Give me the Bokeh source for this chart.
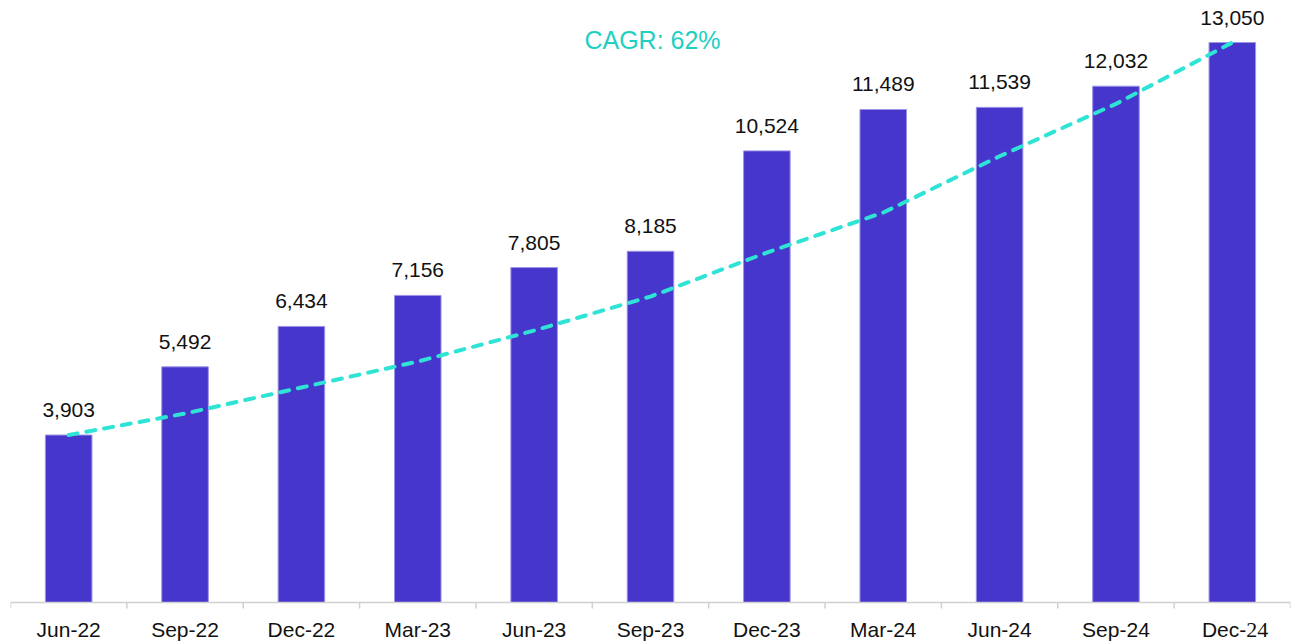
import math
from bokeh.plotting import figure
from bokeh.models import ColumnDataSource, Range1d, Label, Span
from bokeh.core.properties import value
from bokeh.embed import file_html
from bokeh.resources import INLINE

categories = ["Jun-22", "Sep-22", "Dec-22", "Mar-23", "Jun-23", "Sep-23",
              "Dec-23", "Mar-24", "Jun-24", "Sep-24", "Dec-24"]
values = [3903, 5492, 6434, 7156, 7805, 8185, 10524, 11489, 11539, 12032, 13050]
# dashed CAGR trend line at each category
cagr_curve = [3903, 4404, 5010, 5615, 6338, 7130, 8155, 9087, 10400, 11620, 13050]
cagr_text = "CAGR: 62%"

FONT = "Liberation Sans"
SERIF = "Liberation Serif"
BAR_COLOR = "#4636CC"
LINE_COLOR = "#2FE3D5"
AXIS_COLOR = "#D0D0D0"
Y_TOP = 14029
Y_BOTTOM = -932

n = len(categories)
centers = [i + 0.5 for i in range(n)]
boundaries = list(range(n + 1))
labels = [f"{v:,}" for v in values]

src = ColumnDataSource(dict(x=centers, top=values, label=labels, curve=cagr_curve))

p = figure(width=1292, height=642, output_backend="svg", toolbar_location=None,
           x_range=Range1d(0, n), y_range=Range1d(Y_BOTTOM, Y_TOP))
p.min_border_left = 10
p.min_border_right = 2
p.min_border_top = 0
p.min_border_bottom = 0
p.outline_line_color = None
p.background_fill_color = "white"
p.border_fill_color = "white"
p.xgrid.visible = False
p.ygrid.visible = False
p.xaxis.visible = False
p.yaxis.visible = False

p.vbar(x="x", top="top", width=0.4, bottom=0, source=src,
       fill_color=BAR_COLOR, line_color="#9D94E6", line_width=1)

# category axis: baseline, boundary ticks, labels
p.add_layout(Span(location=0, dimension="width", line_color=AXIS_COLOR, line_width=1.5))
p.ray(x=boundaries, y=[0] * len(boundaries), length=6, length_units="screen",
      angle=-math.pi / 2, line_color=AXIS_COLOR, line_width=1.5)
p.text(x=centers[:-1], y=[0] * (n - 1), text=categories[:-1], y_offset=27,
       text_align="center", text_baseline="middle", text_font=value(FONT),
       text_font_size="21px", text_color="#111111")
# last label: "Dec-" in sans and "24" in serif, as in the reference
last_prefix, last_suffix = categories[-1][:4], categories[-1][4:]
p.text(x=[centers[-1] + 0.12], y=[0], text=[last_prefix], y_offset=27,
       text_align="right", text_baseline="middle", text_font=value(FONT),
       text_font_size="21px", text_color="#111111")
p.text(x=[centers[-1] + 0.12], y=[0], text=[last_suffix], y_offset=27,
       text_align="left", text_baseline="middle", text_font=value(SERIF),
       text_font_size="22px", text_color="#111111")

p.line(x="x", y="curve", source=src, line_color=LINE_COLOR, line_width=4,
       line_dash="9 9", line_cap="round")

p.text(x="x", y="top", text="label", source=src, text_align="center",
       text_baseline="alphabetic", y_offset=-25, text_font=value(FONT),
       text_font_size="21px", text_color="#111111")

p.add_layout(Label(x=5.517, y=13097, text=cagr_text, text_align="center",
                   text_baseline="middle", text_font=FONT, text_font_size="25px",
                   text_color="#1FCFC1"))

open("out.html", "w").write(file_html(p, INLINE))
